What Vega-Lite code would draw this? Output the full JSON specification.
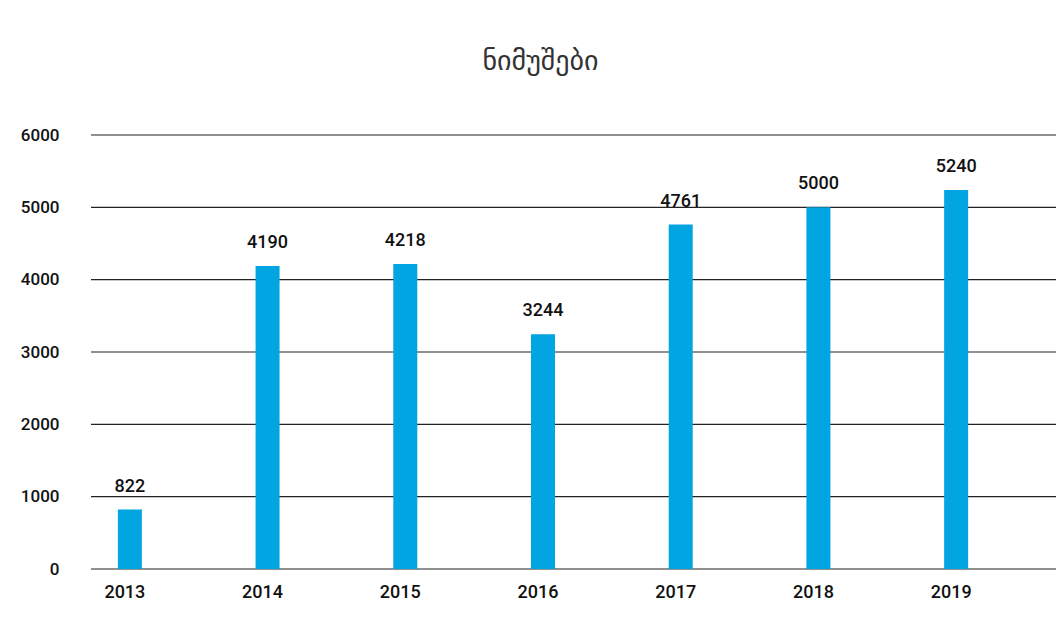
{
  "$schema": "https://vega.github.io/schema/vega-lite/v6.json",
  "width": 965,
  "height": 434,
  "padding": {"left": 20, "top": 48, "right": 0, "bottom": 0},
  "background": "white",
  "title": {
    "text": "ნიმუშები",
    "font": "DejaVu Sans",
    "fontSize": 28,
    "fontWeight": "normal",
    "color": "#333333",
    "anchor": "middle",
    "dx": -33,
    "offset": 50
  },
  "datasets": {
    "bars": [
      {"year": "2013", "value": 822},
      {"year": "2014", "value": 4190},
      {"year": "2015", "value": 4218},
      {"year": "2016", "value": 3244},
      {"year": "2017", "value": 4761},
      {"year": "2018", "value": 5000},
      {"year": "2019", "value": 5240}
    ],
    "grid": [
      {"value": 0}, {"value": 1000}, {"value": 2000}, {"value": 3000},
      {"value": 4000}, {"value": 5000}, {"value": 6000}
    ]
  },
  "layer": [
    {
      "data": {"name": "grid"},
      "mark": {"type": "rule", "color": "#222222", "strokeWidth": 1.2},
      "encoding": {
        "y": {
          "field": "value",
          "type": "quantitative",
          "scale": {"domain": [0, 6000]},
          "axis": {
            "title": null,
            "values": [0, 1000, 2000, 3000, 4000, 5000, 6000],
            "format": "d",
            "ticks": false,
            "domain": false,
            "grid": false,
            "labelPadding": 32,
            "labelFont": "Roboto",
            "labelFontSize": 17,
            "labelFontWeight": 500,
            "labelColor": "#111111"
          }
        }
      }
    },
    {
      "data": {"name": "bars"},
      "encoding": {
        "x": {
          "field": "year",
          "type": "nominal",
          "scale": {"range": [-30, 934], "paddingInner": 0, "paddingOuter": 0},
          "axis": {
            "title": null,
            "labelAngle": 0,
            "ticks": false,
            "domain": false,
            "grid": false,
            "labelPadding": 14,
            "labelOffset": -5,
            "labelFont": "Roboto",
            "labelFontSize": 18,
            "labelFontWeight": 500,
            "labelColor": "#111111"
          }
        },
        "y": {"field": "value", "type": "quantitative"}
      },
      "layer": [
        {"mark": {"type": "bar", "size": 24, "color": "#00A5E2"}},
        {
          "mark": {
            "type": "text",
            "baseline": "bottom",
            "dy": -14,
            "font": "Roboto",
            "fontSize": 18,
            "fontWeight": 500,
            "color": "#111111"
          },
          "encoding": {"text": {"field": "value", "type": "quantitative", "format": "d"}}
        }
      ]
    }
  ],
  "config": {"view": {"stroke": null}}
}
